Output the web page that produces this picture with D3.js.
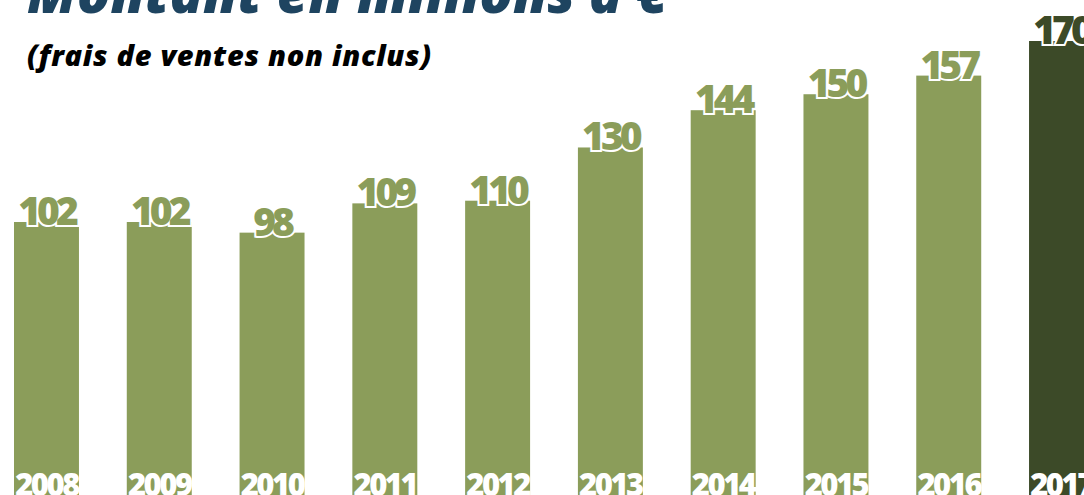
<!DOCTYPE html>
<html>
<head>
<meta charset="utf-8">
<script src="https://cdn.jsdelivr.net/npm/d3@7"></script>
<style>
  body { margin: 0; background: #fff; overflow: hidden; }
  svg { display: block; font-family: "Open Sans", "Lato", sans-serif; }
</style>
</head>
<body>
<div id="chart"></div>
<script>
var years = ["2008", "2009", "2010", "2011", "2012", "2013", "2014", "2015", "2016", "2017"];
var amounts = [102, 102, 98, 109, 110, 130, 144, 150, 157, 170];
var highlightYear = "2017";

var svgWidth = 1084;
var svgHeight = 495;

var svg = d3.select("#chart")
  .append("svg")
  .attr("width", svgWidth)
  .attr("height", svgHeight);

var x = d3.scaleBand()
  .domain(years)
  .range([14, 1094])
  .paddingInner(0.424)
  .paddingOuter(0);

var y = d3.scaleLinear()
  .domain([0, 170])
  .range([493.5, 41]);

var green = "#8b9d5a";
var darkGreen = "#3c4a28";

var data = years.map(function(yr, i) {
  return { year: yr, value: amounts[i] };
});

// title (partly cut by the top edge)
svg.append("text")
  .attr("x", 27)
  .attr("y", 13)
  .attr("fill", "#1e4460")
  .attr("font-size", 55)
  .attr("font-weight", 800)
  .attr("font-style", "italic")
  .text("Montant en millions d’€");

svg.append("text")
  .attr("x", 27)
  .attr("y", 66)
  .attr("fill", "#000")
  .attr("font-size", 29)
  .attr("font-weight", 800)
  .attr("font-style", "italic")
  .attr("letter-spacing", 0.7)
  .text("(frais de ventes non inclus)");

svg.selectAll("rect.bar")
  .data(data)
  .enter()
  .append("rect")
  .attr("class", "bar")
  .attr("x", d => x(d.year))
  .attr("y", d => y(d.value))
  .attr("width", x.bandwidth())
  .attr("height", d => y(0) - y(d.value) + 2)
  .attr("fill", d => d.year === highlightYear ? darkGreen : green);

// value labels, sitting on the bar top with a white halo
svg.selectAll("text.value")
  .data(data)
  .enter()
  .append("text")
  .attr("class", "value")
  .attr("x", d => x(d.year) + x.bandwidth() / 2)
  .attr("y", d => y(d.value) + 3)
  .attr("text-anchor", "middle")
  .attr("font-size", 39)
  .attr("font-weight", 800)
  .attr("letter-spacing", -4)
  .attr("fill", d => d.year === highlightYear ? darkGreen : green)
  .attr("stroke", "#fff")
  .attr("stroke-width", 4)
  .attr("paint-order", "stroke")
  .text(d => d.value);

// year labels inside bar bottoms
svg.selectAll("text.year")
  .data(data)
  .enter()
  .append("text")
  .attr("class", "year")
  .attr("x", d => x(d.year) + x.bandwidth() / 2)
  .attr("y", 496)
  .attr("text-anchor", "middle")
  .attr("font-size", 31)
  .attr("font-weight", 800)
  .attr("letter-spacing", -2.5)
  .attr("fill", "#fff")
  .text(d => d.year);
</script>
</body>
</html>
